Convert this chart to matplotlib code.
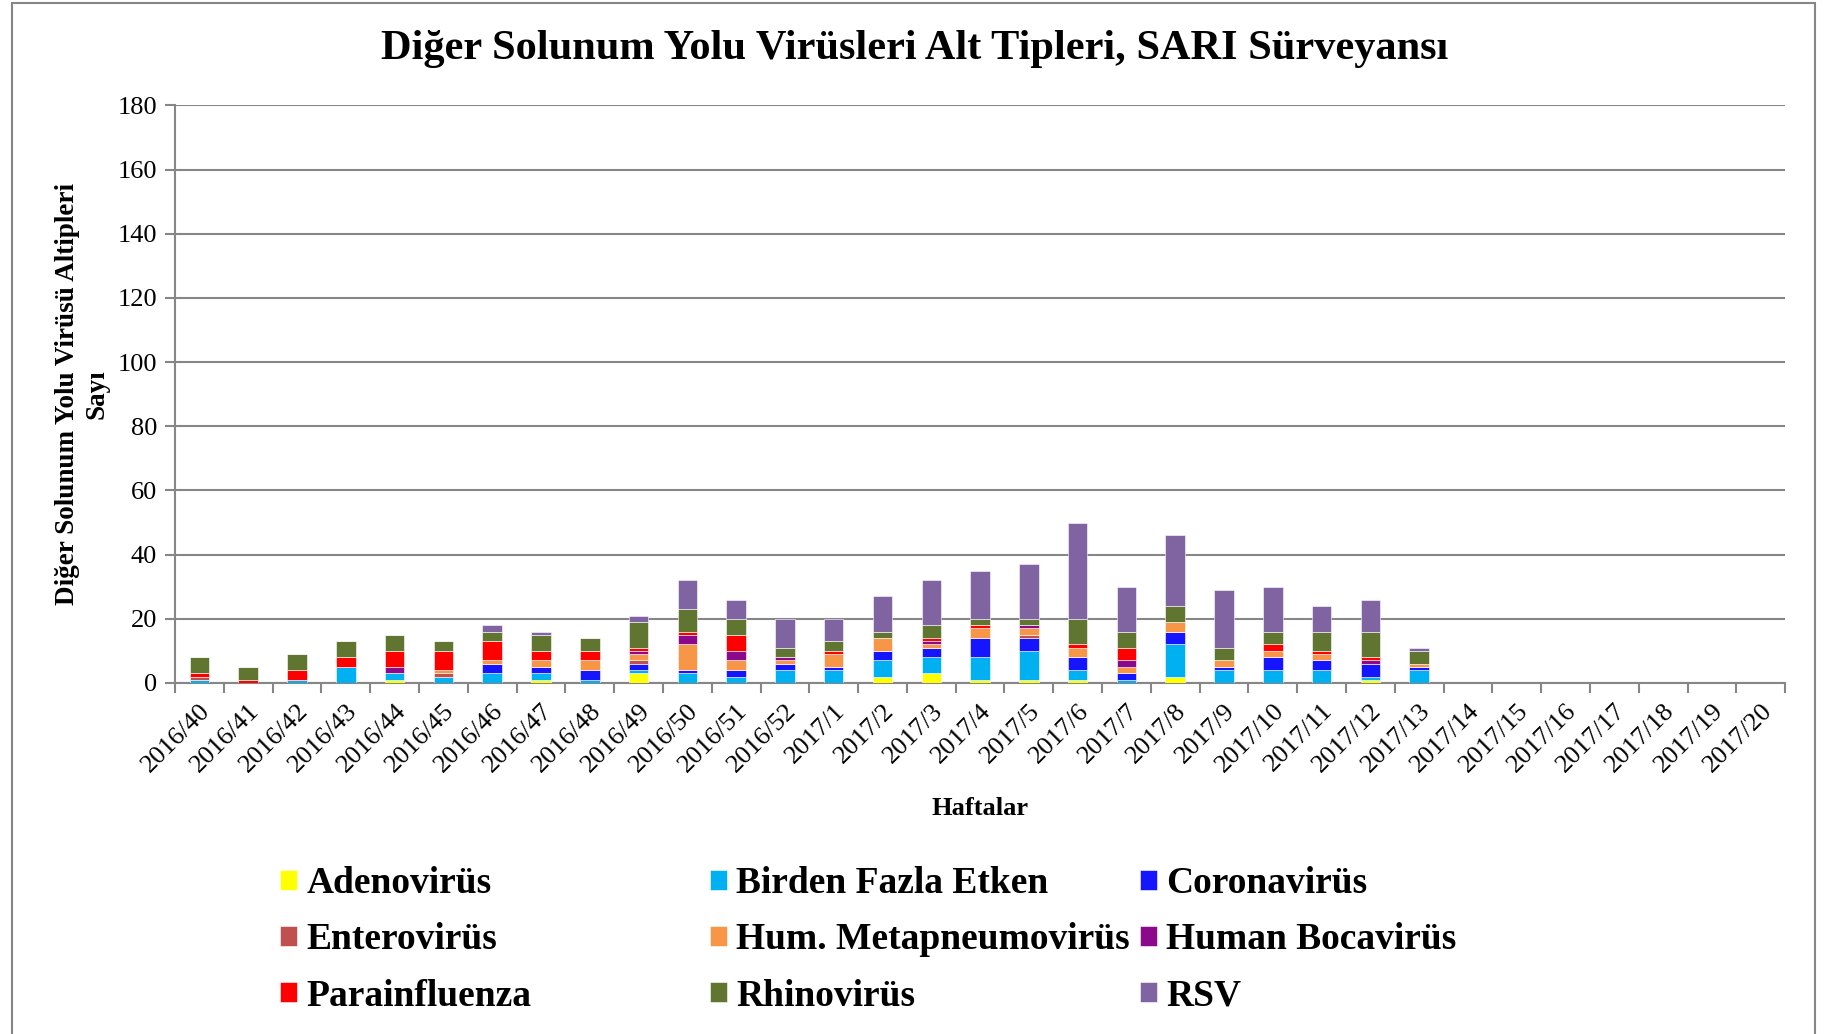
import matplotlib
matplotlib.use("Agg")
import matplotlib.pyplot as plt
from matplotlib.patches import Rectangle
import numpy as np

weeks = ["2016/40", "2016/41", "2016/42", "2016/43", "2016/44", "2016/45", "2016/46",
         "2016/47", "2016/48", "2016/49", "2016/50", "2016/51", "2016/52",
         "2017/1", "2017/2", "2017/3", "2017/4", "2017/5", "2017/6", "2017/7",
         "2017/8", "2017/9", "2017/10", "2017/11", "2017/12", "2017/13", "2017/14",
         "2017/15", "2017/16", "2017/17", "2017/18", "2017/19", "2017/20"]

adeno   = [0, 0, 0, 0, 1, 0, 0, 1, 0, 3, 0, 0, 0, 0, 2, 3, 1, 1, 1, 0, 2, 0, 0, 0, 1, 0, 0, 0, 0, 0, 0, 0, 0]
birden  = [1, 0, 1, 5, 2, 2, 3, 2, 1, 1, 3, 2, 4, 4, 5, 5, 7, 9, 3, 1, 10, 4, 4, 4, 1, 4, 0, 0, 0, 0, 0, 0, 0]
corona  = [0, 0, 0, 0, 0, 0, 3, 2, 3, 2, 1, 2, 2, 1, 3, 3, 6, 4, 4, 2, 4, 1, 4, 3, 4, 1, 0, 0, 0, 0, 0, 0, 0]
entero  = [1, 0, 0, 0, 0, 1, 0, 0, 0, 1, 0, 0, 0, 0, 0, 0, 0, 1, 0, 0, 0, 0, 0, 0, 0, 0, 0, 0, 0, 0, 0, 0, 0]
hmpv    = [0, 0, 0, 0, 0, 1, 1, 2, 3, 2, 8, 3, 1, 4, 4, 1, 3, 2, 3, 2, 3, 2, 2, 2, 0, 1, 0, 0, 0, 0, 0, 0, 0]
boca    = [0, 0, 0, 0, 2, 0, 0, 0, 0, 1, 3, 3, 1, 0, 0, 1, 0, 1, 0, 2, 0, 0, 0, 0, 1, 0, 0, 0, 0, 0, 0, 0, 0]
parainf = [1, 1, 3, 3, 5, 6, 6, 3, 3, 1, 1, 5, 0, 1, 0, 1, 1, 0, 1, 4, 0, 0, 2, 1, 1, 0, 0, 0, 0, 0, 0, 0, 0]
rhino   = [5, 4, 5, 5, 5, 3, 3, 5, 4, 8, 7, 5, 3, 3, 2, 4, 2, 2, 8, 5, 5, 4, 4, 6, 8, 4, 0, 0, 0, 0, 0, 0, 0]
rsv     = [0, 0, 0, 0, 0, 0, 2, 1, 0, 2, 9, 6, 9, 7, 11, 14, 15, 17, 30, 14, 22, 18, 14, 8, 10, 1, 0, 0, 0, 0, 0, 0, 0]

series_names = ["Adenovirüs", "Birden Fazla Etken", "Coronavirüs", "Enterovirüs",
                "Hum. Metapneumovirüs", "Human Bocavirüs", "Parainfluenza", "Rhinovirüs", "RSV"]
series_vals = [adeno, birden, corona, entero, hmpv, boca, parainf, rhino, rsv]
colors = ["#FFFF00", "#00B0F0", "#1515FF", "#C0504D", "#F79646", "#8B0A8B", "#FF0000", "#5F7530", "#8064A2"]

yticks = [0, 20, 40, 60, 80, 100, 120, 140, 160, 180]

FONT = "Liberation Serif"
plt.rcParams["font.family"] = [FONT, "DejaVu Serif"]

fig = plt.figure(figsize=(18.29, 10.34), dpi=100)
ax = fig.add_axes([0.0957, 0.3395, 0.976 - 0.0957, 0.898 - 0.3395])

x = np.arange(len(weeks))
bottom = np.zeros(len(weeks))
handles = []
for name, vals, c in zip(series_names, series_vals, colors):
    v = np.array(vals, dtype=float)
    b = ax.bar(x, v, width=0.4, bottom=bottom, color=c, label=name,
               edgecolor="#FFFFFF", linewidth=0.4, zorder=3)
    handles.append(b)
    bottom += v

ax.set_xlim(-0.5, len(weeks) - 0.5)
ax.set_ylim(0, 180)
ax.set_yticks(yticks)
ax.set_yticklabels([str(t) for t in yticks], fontsize=19)
ax.yaxis.grid(True, color="#868686", linewidth=1.5, zorder=0)
ax.set_axisbelow(True)

ax.set_xticks(x)
ax.set_xticklabels(weeks, rotation=45, ha="right", rotation_mode="anchor", fontsize=19)
ax.tick_params(axis="x", which="major", length=0, pad=12)
ax.set_xticks(np.arange(-0.5, len(weeks), 1.0), minor=True)
ax.tick_params(axis="x", which="minor", length=7, color="#868686", width=1.5)
ax.tick_params(axis="y", length=7, color="#868686", width=1.5, pad=6)

for s in ["top", "right"]:
    ax.spines[s].set_visible(False)
for s in ["left", "bottom"]:
    ax.spines[s].set_color("#868686")
    ax.spines[s].set_linewidth(1.5)

ax.set_ylabel("Diğer Solunum Yolu Virüsü Altipleri\nSayı", fontsize=19.5, fontweight="bold",
              labelpad=6, linespacing=1.2)
ax.set_xlabel("Haftalar", fontsize=19, fontweight="bold", labelpad=15)

fig.text(0.5, 0.953, "Diğer Solunum Yolu Virüsleri Alt Tipleri, SARI Sürveyansı",
         ha="center", va="center", fontsize=30.5, fontweight="bold")

# Legend: three columns placed independently
col_x = [0.145, 0.380, 0.615]
for ci in range(3):
    hs = [handles[ci + 3 * r] for r in range(3)]
    ls = [series_names[ci + 3 * r] for r in range(3)]
    fig.legend(hs, ls, loc="upper left", bbox_to_anchor=(col_x[ci], 0.177),
               bbox_transform=fig.transFigure, frameon=False,
               prop={"family": FONT, "weight": "bold", "size": 27},
               handlelength=0.45, handleheight=0.45, handletextpad=0.25,
               labelspacing=0.57, borderaxespad=0)

fig.patches.append(Rectangle((0.0065, -0.01), 0.986, 1.007, transform=fig.transFigure,
                             fill=False, edgecolor="#868686", linewidth=1.5))

fig.savefig("out.png", dpi=100)
